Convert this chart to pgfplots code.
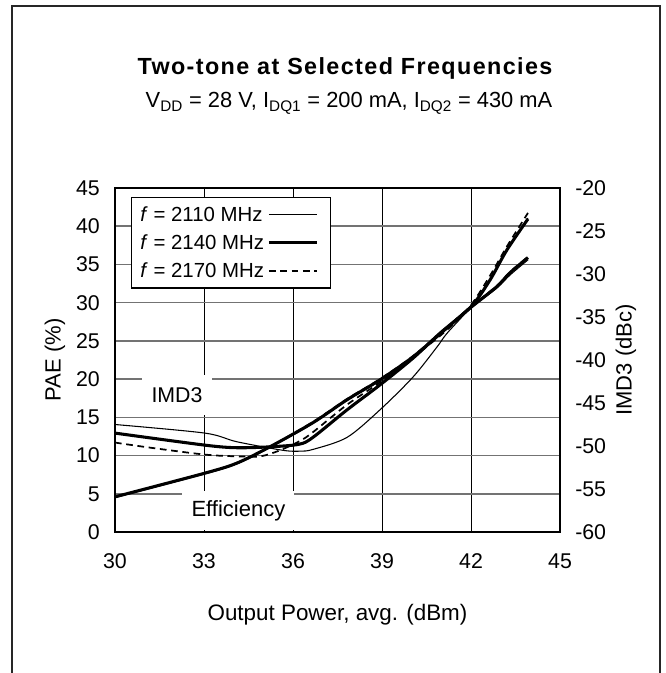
\documentclass[border=0pt]{standalone}
\usepackage{fontspec}
\setmainfont{Liberation Sans}
\usepackage{pgfplots}
\pgfplotsset{compat=1.18}

% 1 px of the reference = 0.75pt
\def\u{0.75pt}
\newcommand{\fs}[1]{\fontsize{#1}{#1}\selectfont}

\pgfplotsset{
  thinline/.style={black, line width=0.8pt},
  thickline/.style={black, line width=2.3pt},
  dashline/.style={black, line width=1.3pt, dash pattern=on 5pt off 3.5pt},
  chartbox/.style={
    at={({115*\u},{-532*\u})}, anchor=south west,
    scale only axis, width={445*\u}, height={344*\u},
    xmin=30, xmax=45,
    major tick length=0pt,
  },
}

\begin{document}
\begin{tikzpicture}
% outer frame
\draw[line width=1.4pt, black!85] ({12*\u},{-690*\u}) -- ({12*\u},{-6*\u}) -- ({660*\u},{-6*\u}) -- ({660*\u},{-690*\u});

\node[anchor=base, font=\bfseries\addfontfeature{LetterSpace=6}\fs{17.5}] at ({345*\u},{-75*\u}) {Two-tone at Selected Frequencies};
\node[anchor=base, font=\fs{16.4}] at ({349*\u},{-108*\u})
  {V\textsubscript{DD} = 28 V, I\textsubscript{DQ1} = 200 mA, I\textsubscript{DQ2} = 430 mA};

% left axis: PAE
\begin{axis}[chartbox,
    ymin=0, ymax=45,
    xtick={30,33,36,39,42,45}, xticklabels={30,33,36,39,42,45},
    ytick={0,5,...,45}, yticklabels={0,5,10,15,20,25,30,35,40,45},
    grid=major,
    x grid style={black, line width=0.75pt},
    y grid style={black!55, line width=1.1pt},
    axis line style={line width=1.5pt},
    tick label style={font=\fs{16}},
    xticklabel style={anchor=base, inner sep=0pt, yshift={-36*\u}},
    yticklabel style={anchor=east, inner sep=0pt, xshift={-15*\u}},
    xlabel={Output Power, avg. (dBm)},
    xlabel style={font=\fs{16.8}, at={(axis description cs:0.5,0)}, anchor=base, yshift={-88*\u}},
    ylabel={PAE (\%)},
    ylabel style={font=\fs{16.5}, at={(axis description cs:0,0.5)}, anchor=center, yshift={60*\u}},
]
\node[fill=white, inner sep=0pt, minimum width={70*\u}, minimum height={40*\u}, font=\fs{16}]
  at (axis cs:32.09,17.92) {IMD3};
\node[fill=white, inner sep=0pt, minimum width={112*\u}, minimum height={39*\u}, font=\fs{16.5}]
  at (axis cs:34.16,2.75) {Efficiency};

% Efficiency, 2110 MHz
\addplot[thinline, smooth] coordinates {
 (30,4.5)(33.03,7.6)(34.1,8.9)(35.2,11.0)(36.67,14.2)(37.82,17.2)(38.93,19.8)
 (40.04,22.8)(41.19,26.6)(42.0,29.3)(42.87,31.9)(43.31,33.6)(43.92,35.6)
};
% Efficiency, 2170 MHz
\addplot[dashline, smooth] coordinates {
 (30,4.6)(33.03,7.7)(34.1,9.0)(35.2,11.1)(36.67,14.4)(37.82,17.4)(38.93,20.0)
 (40.04,23.0)(41.19,26.8)(42.0,29.5)(42.87,32.2)(43.31,34.0)(43.92,36.0)
};
% Efficiency, 2140 MHz
\addplot[thickline, smooth] coordinates {
 (30,4.6)(33.03,7.7)(34.1,9.0)(35.2,11.1)(36.67,14.3)(37.82,17.3)(38.93,19.9)
 (40.04,22.9)(41.19,26.7)(42.0,29.4)(42.87,32.1)(43.31,33.9)(43.92,35.9)
};
\end{axis}

% right axis: IMD3
\begin{axis}[chartbox,
    ymin=-60, ymax=-20,
    hide x axis,
    axis y line*=right,
    axis line style={draw=none},
    ytick={-60,-55,...,-20},
    yticklabels={-60,-55,-50,-45,-40,-35,-30,-25,-20},
    tick label style={font=\fs{16}},
    yticklabel style={anchor=west, inner sep=0pt, xshift={15*\u}},
    ylabel={IMD3 (dBc)},
    ylabel style={font=\fs{16.5}, at={(axis description cs:1,0.5)}, anchor=center, yshift={-66*\u}},
    legend plot pos=right,
    legend cell align=left,
    legend image code/.code={\draw[#1] (0pt,0pt) -- (36pt,0pt); \path (41pt,0pt);},
    legend style={at={(0.036,0.974)}, anchor=north west, draw=black, line width=1.1pt,
      fill=white, font=\fs{15.3}, inner xsep=4pt, inner ysep=4pt, row sep=3.5pt,
      nodes={inner sep=2.5pt}},
]
\addplot[thinline, smooth] coordinates {
 (30,-47.5)(33.03,-48.5)(34.1,-49.5)(35.66,-50.5)(36.24,-50.6)(36.67,-50.4)
 (37.82,-49.0)(38.93,-45.8)(40.04,-42.0)(40.85,-38.5)(41.19,-36.9)(42.0,-33.8)
 (42.64,-30.7)(43.21,-27.2)(43.92,-23.5)
};
\addlegendentry{\textit{f} = 2110 MHz}
\addplot[thickline, smooth] coordinates {
 (30,-48.5)(33.03,-49.9)(34.1,-50.2)(35.2,-50.1)(36.2,-49.8)(36.67,-49.0)
 (37.82,-45.8)(38.93,-42.9)(40.04,-39.8)(40.95,-36.9)(42.0,-33.8)
 (42.64,-30.7)(43.21,-27.2)(43.92,-23.6)
};
\addlegendentry{\textit{f} = 2140 MHz}
\addplot[dashline, smooth] coordinates {
 (30,-49.6)(31.2,-50.2)(33.03,-51.0)(34.1,-51.2)(34.9,-51.2)(35.56,-50.5)
 (36.24,-49.4)(36.67,-48.4)(37.82,-45.2)(38.93,-42.6)(40.04,-39.7)(41.19,-36.5)
 (42.0,-33.6)(42.64,-30.2)(43.21,-26.8)(43.92,-22.9)
};
\addlegendentry{\textit{f} = 2170 MHz}
\end{axis}

\pgfresetboundingbox
\useasboundingbox (0,0) rectangle ({665*\u},{-673*\u});
\end{tikzpicture}
\end{document}
